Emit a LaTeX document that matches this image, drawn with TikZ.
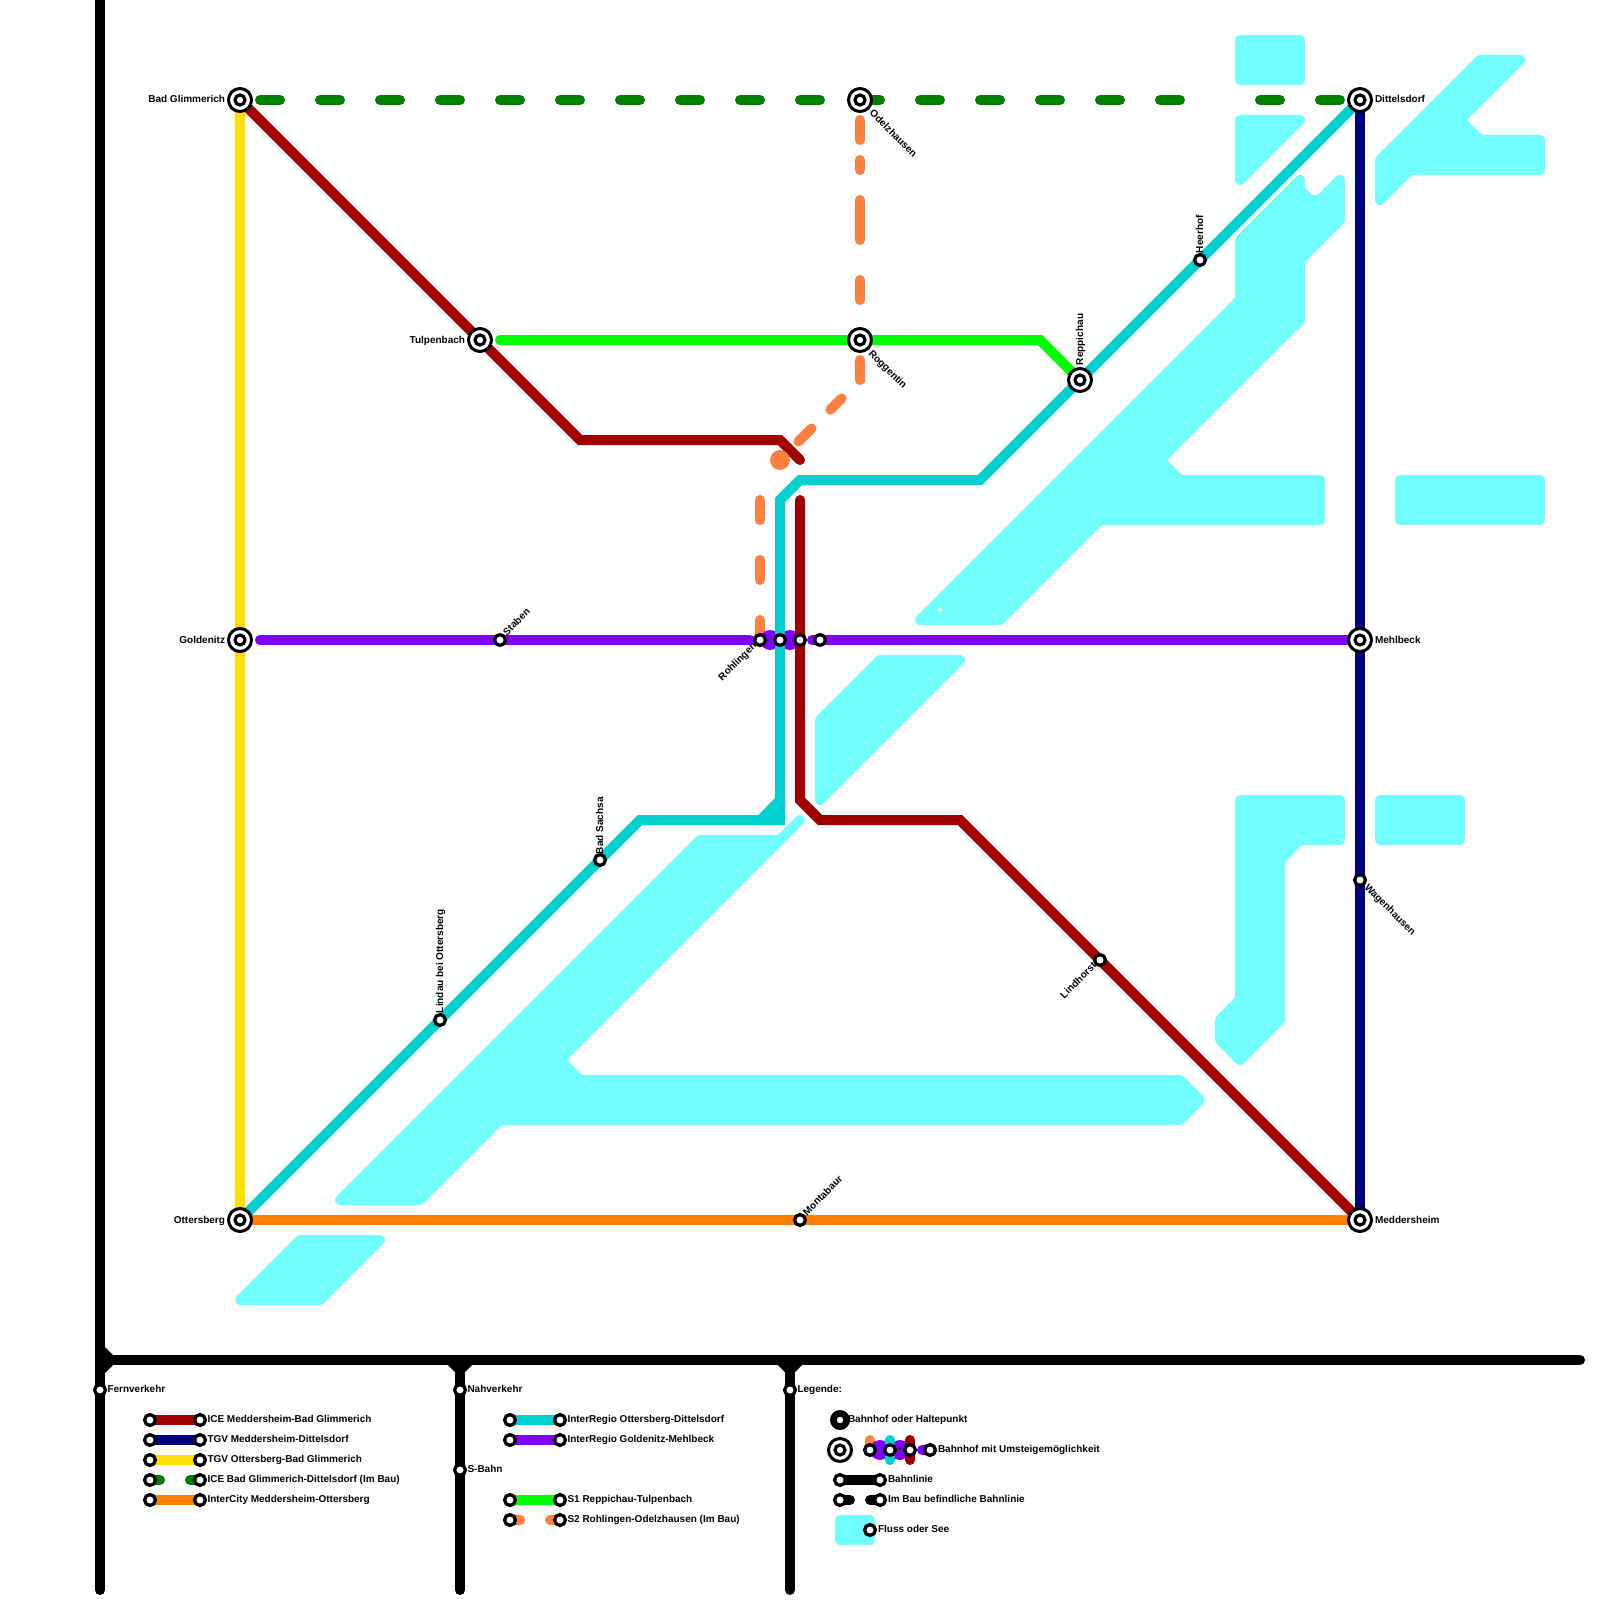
\documentclass[tikz,border=0pt]{standalone}
\usepackage{fontspec}
\setmainfont{Liberation Sans}
\pgfdeclarelayer{waterlayer}
\pgfdeclarelayer{linelayer}
\pgfsetlayers{waterlayer,linelayer,main}
\definecolor{cIce}{HTML}{A00000}
\definecolor{cTgvB}{HTML}{000080}
\definecolor{cTgvY}{HTML}{FFE000}
\definecolor{cBau}{HTML}{008000}
\definecolor{cIC}{HTML}{FF8000}
\definecolor{cIR}{HTML}{00D0D0}
\definecolor{cIRp}{HTML}{8000FF}
\definecolor{cS}{HTML}{00FF00}
\definecolor{cSb}{HTML}{FF8040}
\definecolor{cWater}{HTML}{70FFFF}
\tikzset{
  x=1pt,y=-1pt,
  bigst/.style={circle,draw=black,line width=3pt,fill=white,minimum size=23pt,inner sep=0pt,
    path picture={\draw[black,line width=3.2pt] (path picture bounding box.center) circle (5pt);}},
  smallst/.style={circle,draw=black,line width=3.3pt,fill=white,minimum size=10.8pt,inner sep=0pt},
  blobdot/.style={circle,fill=#1,minimum size=20pt,inner sep=0pt},
  haltst/.style={circle,fill=black,minimum size=20pt,inner sep=0pt,
    path picture={\fill[white] (path picture bounding box.center) circle (3.2pt);}},
  lbl/.style={inner sep=0pt,outer sep=0pt,font=\fontsize{10}{12}\selectfont\bfseries,text=black},
  lR/.style={lbl,anchor=base west},
  lL/.style={lbl,anchor=base east},
  rail/.style={line width=10pt,line join=miter},
  roundrail/.style={line width=10pt,line cap=round,line join=miter},
  water/.style={fill=cWater,draw=cWater,line width=10pt,line join=round},
  d20/.style={line width=10pt,line cap=round,dash pattern=on 20pt off 40pt},
}
\begin{document}
\begin{tikzpicture}
\useasboundingbox (0,0) rectangle (1600,1600);
% ---------- stations
\node[bigst] (badg) at (240,100) {};
\node[bigst] (tulp) at (480,340) {};
\node[bigst] (gold) at (240,640) {};
\node[bigst] (otte) at (240,1220) {};
\node[bigst] (odel) at (860,100) {};
\node[bigst] (rogg) at (860,340) {};
\node[bigst] (repp) at (1080,380) {};
\node[bigst] (ditt) at (1360,100) {};
\node[bigst] (mehl) at (1360,640) {};
\node[bigst] (medd) at (1360,1220) {};
\node[smallst] (stab) at (500,640) {};
\node[smallst] (rohl) at (760,640) {};
\node[smallst] (xa) at (780,640) {};
\node[smallst] (xb) at (800,640) {};
\node[smallst] (xc) at (820,640) {};
\node[smallst] (heer) at (1200,260) {};
\node[smallst] (sach) at (600,860) {};
\node[smallst] (lind) at (440,1020) {};
\node[smallst] (mont) at (800,1220) {};
\node[smallst] (lihs) at (1100,960) {};
\node[smallst] (wage) at (1360,880) {};
\node[smallst] (fern) at (100,1390) {};
\node[smallst] (nahv) at (460,1390) {};
\node[smallst] (sbah) at (460,1470) {};
\node[smallst] (lege) at (790,1390) {};
% legend stations
\node[smallst] (a1) at (150,1420) {}; \node[smallst] (b1) at (200,1420) {};
\node[smallst] (a2) at (150,1440) {}; \node[smallst] (b2) at (200,1440) {};
\node[smallst] (a3) at (150,1460) {}; \node[smallst] (b3) at (200,1460) {};
\node[smallst] (a4) at (150,1480) {}; \node[smallst] (b4) at (200,1480) {};
\node[smallst] (a5) at (150,1500) {}; \node[smallst] (b5) at (200,1500) {};
\node[smallst] (c1) at (510,1420) {}; \node[smallst] (d1) at (560,1420) {};
\node[smallst] (c2) at (510,1440) {}; \node[smallst] (d2) at (560,1440) {};
\node[smallst] (c3) at (510,1500) {}; \node[smallst] (d3) at (560,1500) {};
\node[smallst] (c4) at (510,1520) {}; \node[smallst] (d4) at (560,1520) {};
\node[haltst] (lhalt) at (840,1420) {};
\node[bigst] (lbig) at (840,1450) {};
\node[smallst] (u1) at (870,1450) {};
\node[smallst] (u2) at (890,1450) {};
\node[smallst] (u3) at (910,1450) {};
\node[smallst] (u4) at (930,1450) {};
\node[smallst] (e1) at (840,1480) {}; \node[smallst] (f1) at (880,1480) {};
\node[smallst] (e2) at (840,1500) {}; \node[smallst] (f2) at (880,1500) {};
\node[smallst] (lw) at (870,1530) {};
% ---------- bend and free-end points
\coordinate (r1) at (580,440); \coordinate (r2) at (780,440); \coordinate (r3) at (800,460);
\coordinate (r4) at (800,500); \coordinate (r5) at (800,800); \coordinate (r6) at (820,820); \coordinate (r7) at (960,820);
\coordinate (c1a) at (640,820); \coordinate (c2a) at (780,820); \coordinate (c3a) at (780,500); \coordinate (c4a) at (800,480); \coordinate (c5a) at (980,480);
\coordinate (p1) at (260,640); \coordinate (p2) at (750,640); \coordinate (p3) at (812,640);
\coordinate (s1) at (500,340); \coordinate (s2) at (1040,340);
\coordinate (g1) at (1190,100); \coordinate (g2) at (1240,100);
\coordinate (o1) at (860,380); \coordinate (o2) at (760,500);
\coordinate (t1) at (100,0); \coordinate (t2) at (100,1590); \coordinate (t3) at (100,1360); \coordinate (t4) at (1580,1360);
\coordinate (t5) at (460,1360); \coordinate (t6) at (460,1590); \coordinate (t7) at (790,1360); \coordinate (t8) at (790,1590);
\node[blobdot=cSb] (sdot) at (780,460) {};
% ---------- water
\begin{pgfonlayer}{waterlayer}
\path[water] (1240,40) rectangle (1300,80);
\path[water] (1240,120) -- (1300,120) -- (1240,180) -- cycle;
\path[water] (1480,60) -- (1520,60) -- (1460,120) -- (1480,140) -- (1540,140) -- (1540,170) -- (1410,170) -- (1380,200) -- (1380,160) -- cycle;
\path[water] (1240,240) -- (1300,180) -- (1300,190) -- (1310,200) -- (1320,200) -- (1340,180) -- (1340,220) -- (1300,260) -- (1300,320) -- (1160,460) -- (1180,480) -- (1320,480) -- (1320,520) -- (1100,520) -- (1000,620) -- (920,620) -- (1240,300) -- cycle;
\fill[white] (940,607.5) -- (942.5,610) -- (940,612.5) -- (937.5,610) -- cycle;
\path[water] (820,720) -- (880,660) -- (960,660) -- (820,800) -- cycle;
\path[water] (700,840) -- (780,840) -- (800,820) -- (560,1060) -- (580,1080) -- (1180,1080) -- (1200,1100) -- (1180,1120) -- (500,1120) -- (420,1200) -- (340,1200) -- cycle;
\path[water] (240,1300) -- (300,1240) -- (380,1240) -- (320,1300) -- cycle;
\path[water] (1400,480) rectangle (1540,520);
\path[water] (1380,800) rectangle (1460,840);
\path[water] (1240,800) -- (1340,800) -- (1340,840) -- (1300,840) -- (1280,860) -- (1280,1020) -- (1240,1060) -- (1220,1040) -- (1220,1020) -- (1240,1000) -- cycle;
\path[water] (840,1520) rectangle (870,1540);
\end{pgfonlayer}
% ---------- lines
\begin{pgfonlayer}{linelayer}
% track frame
\draw[roundrail,black] (t1) -- (t2);
\draw[roundrail,black] (t3) -- (t4);
\draw[roundrail,black] (t5) -- (t6);
\draw[roundrail,black] (t7) -- (t8);
\fill[black] (105,1347) -- (113,1355) -- (113,1365) -- (105,1373) -- cycle;
\fill[black] (448,1365) -- (472,1365) -- (465,1372) -- (455,1372) -- cycle;
\fill[black] (778,1365) -- (802,1365) -- (795,1372) -- (785,1372) -- cycle;
% construction lines
\draw[line width=10pt,line cap=round,cBau,dash pattern=on 20pt off 40pt,dash phase=40pt] (badg.center) -- (odel.center);
\draw[d20,cBau] (odel.center) -- (g1);
\draw[line width=10pt,line cap=round,cBau,dash pattern=on 20pt off 40pt,dash phase=40pt] (g2) -- (ditt.center);
\draw[line width=10pt,line cap=round,cSb,dash pattern=on 0pt off 20pt on 20pt off 20pt on 10pt off 30pt on 40pt off 40pt on 20pt off 100pt] (odel.center) -- (rogg.center);
\draw[line width=10pt,line cap=round,cSb,dash pattern=on 0pt off 20pt on 20pt off 26pt on 16pt off 26.6pt on 18.4pt off 200pt] (rogg.center) -- (o1) -- (sdot.center);
\draw[d20,cSb] (o2) -- (rohl.center);
% purple
\draw[line width=10pt,cIRp,line cap=round] (p1) -- (p2);
\fill[cIRp] (770,640) circle (10pt) (790,640) circle (10pt);
\draw[line width=10pt,cIRp,line cap=round] (p3) -- (mehl.center);
% main lines
\draw[rail,cTgvY] (badg.center) -- (otte.center);
\draw[rail,cTgvB] (ditt.center) -- (medd.center);
\draw[rail,cIC] (otte.center) -- (medd.center);
\draw[rail,cS,line cap=round] (s1) -- (s2) -- (repp.center);
\draw[rail,cIR] (otte.center) -- (c1a) -- (c2a) -- (c3a) -- (c4a) -- (c5a) -- (ditt.center);
\fill[cIR] (758,815.5) -- (775,798) -- (785,798) -- (785,825) -- (758,825) -- cycle;
\draw[rail,cIce,line cap=round] (badg.center) -- (r1) -- (r2) -- (r3);
\draw[rail,cIce,line cap=round] (r4) -- (r5) -- (r6) -- (r7) -- (medd.center);
% legend lines
\draw[rail,cIce] (a1.center) -- (b1.center);
\draw[rail,cTgvB] (a2.center) -- (b2.center);
\draw[rail,cTgvY] (a3.center) -- (b3.center);
\draw[roundrail,cBau] (a4.center) -- ++(10,0);
\draw[roundrail,cBau] (b4.center) -- ++(-10,0);
\draw[rail,cIC] (a5.center) -- (b5.center);
\draw[rail,cIR] (c1.center) -- (d1.center);
\draw[rail,cIRp] (c2.center) -- (d2.center);
\draw[rail,cS] (c3.center) -- (d3.center);
\draw[roundrail,cSb] (c4.center) -- ++(10,0);
\draw[roundrail,cSb] (d4.center) -- ++(-10,0);
\draw[roundrail,cSb] (u1.center) -- ++(0,-10);
\fill[cIRp] (880,1450) circle (10pt) (900,1450) circle (10pt);
\draw[roundrail,cIRp] (u4.center) -- ++(-8,0);
\draw[roundrail,cIR] (890,1440) -- (890,1460);
\draw[roundrail,cIce] (910,1440) -- (910,1460);
\draw[roundrail,black] (e1.center) -- (f1.center);
\draw[roundrail,black] (e2.center) -- ++(10,0);
\draw[roundrail,black] (f2.center) -- ++(-10,0);
\end{pgfonlayer}
% ---------- labels
\node[lL] (tBad) at (225,103) {Bad Glimmerich};
\node[lL] (tTul) at (465,343) {Tulpenbach};
\node[lL] (tGol) at (225,643) {Goldenitz};
\node[lL] (tOtt) at (225,1223) {Ottersberg};
\node[lR] (tDit) at (1375,103) {Dittelsdorf};
\node[lR] (tMeh) at (1375,643) {Mehlbeck};
\node[lR] (tMed) at (1375,1223) {Meddersheim};
\node[lR,rotate=-45] (tOde) at (869,114) {Odelzhausen};
\node[lR,rotate=-45] (tRog) at (868,354) {Roggentin};
\node[lR,rotate=90] (tRep) at (1083,365) {Reppichau};
\node[lR,rotate=90] (tHee) at (1203,253) {Heerhof};
\node[lR,rotate=90] (tSac) at (603,854) {Bad Sachsa};
\node[lR,rotate=90] (tLin) at (443,1013) {Lindau bei Ottersberg};
\node[lR,rotate=45] (tSta) at (507,636) {Staben};
\node[lR,rotate=45] (tMon) at (807,1216) {Montabaur};
\node[lL,rotate=45] (tRoh) at (757,646.5) {Rohlingen};
\node[lL,rotate=45] (tLih) at (1097,966.5) {Lindhorst};
\node[lR,rotate=-45] (tWag) at (1364,888) {Wagenhausen};
\node[lR] (tFer) at (107.5,1392) {Fernverkehr};
\node[lR] (tNah) at (467.5,1392) {Nahverkehr};
\node[lR] (tSB) at (467.5,1472) {S-Bahn};
\node[lR] (tLeg) at (797.5,1392) {Legende:};
\node[lR] (l1) at (207.5,1422) {ICE Meddersheim-Bad Glimmerich};
\node[lR] (l2) at (207.5,1442) {TGV Meddersheim-Dittelsdorf};
\node[lR] (l3) at (207.5,1462) {TGV Ottersberg-Bad Glimmerich};
\node[lR] (l4) at (207.5,1482) {ICE Bad Glimmerich-Dittelsdorf (Im Bau)};
\node[lR] (l5) at (207.5,1502) {InterCity Meddersheim-Ottersberg};
\node[lR] (l6) at (567.5,1422) {InterRegio Ottersberg-Dittelsdorf};
\node[lR] (l7) at (567.5,1442) {InterRegio Goldenitz-Mehlbeck};
\node[lR] (l8) at (567.5,1502) {S1 Reppichau-Tulpenbach};
\node[lR] (l9) at (567.5,1522) {S2 Rohlingen-Odelzhausen (Im Bau)};
\node[lR] (l10) at (848,1422) {Bahnhof oder Haltepunkt};
\node[lR] (l11) at (938,1452) {Bahnhof mit Umsteigemöglichkeit};
\node[lR] (l12) at (888,1482) {Bahnlinie};
\node[lR] (l13) at (888,1502) {Im Bau befindliche Bahnlinie};
\node[lR] (l14) at (878,1532) {Fluss oder See};
\node[lbl,anchor=center] (lplus) at (900,1449.5) {\fontsize{7}{8}\selectfont +};
\end{tikzpicture}
\end{document}
